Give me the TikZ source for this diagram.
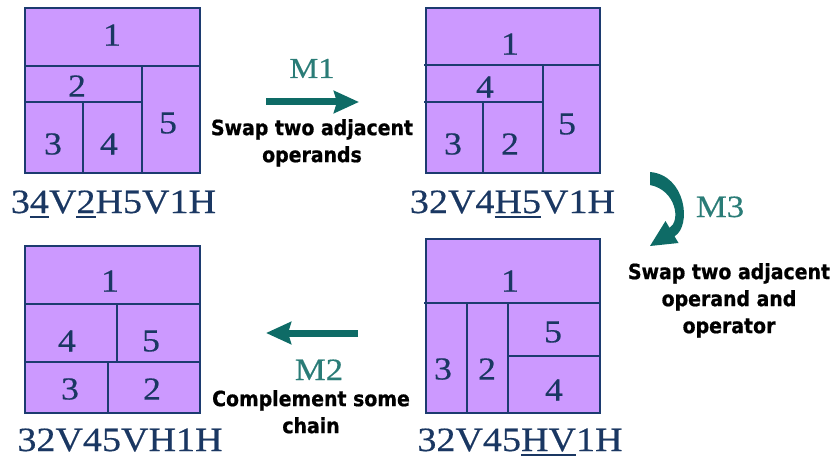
\documentclass[tikz,border=0pt]{standalone}
\usepackage{fontspec}
\usetikzlibrary{arrows.meta}
\newfontfamily\serifx{Liberation Serif}[FakeStretch=1.12, FakeBold=0.4]
\newfontfamily\lblfont{DejaVu Sans}[FakeStretch=0.9, BoldFeatures={FakeBold=0.8}]
\definecolor{boxfill}{HTML}{CC99FF}
\definecolor{boxline}{HTML}{1C3B70}
\definecolor{numcol}{HTML}{1A3762}
\definecolor{arrcol}{HTML}{0E6B66}
\definecolor{mcol}{HTML}{2A7C77}
\newcommand\myul[1]{\leavevmode\vtop{\hbox{#1}\kern2.5pt\hrule height 2.2pt}}
\tikzset{
  panel/.style={draw=boxline, fill=boxfill, line width=2.5pt},
  part/.style={draw=boxline, line width=2.5pt},
  num/.style={text=numcol, inner sep=0pt, font=\serifx\fontsize{32}{36}\selectfont},
  formula/.style={text=numcol, inner sep=0pt, anchor=base, font=\serifx\fontsize{34}{40}\selectfont},
  mlabel/.style={text=mcol, inner sep=0pt, anchor=base, font=\serifx\fontsize{29}{34}\selectfont},
  desc/.style={text=black, inner sep=0pt, anchor=north, align=center, font=\lblfont\bfseries\fontsize{21}{27}\selectfont},
  movearrow/.style={draw=arrcol, line width=7pt, -{Stealth[length=25pt,width=22pt,inset=3pt]}},
}
\begin{document}
\begin{tikzpicture}[x=1pt,y=-1pt]
\useasboundingbox (0,0) rectangle (832,457);
% ---------- panel 1 ----------
\draw[panel] (25,8) rectangle (200,173);
\draw[part] (25,66) -- (200,66);
\draw[part] (142,66) -- (142,173);
\draw[part] (25,102) -- (142,102);
\draw[part] (83,102) -- (83,173);
\node[num] (a1) at (112,35) {1};
\node[num] (a2) at (77,86) {2};
\node[num] (a3) at (53,144) {3};
\node[num] (a4) at (109,144) {4};
\node[num] (a5) at (168,123) {5};
\node[formula] (fa) at (113.5,213) {3\myul{4}V\myul{2}H5V1H};
% ---------- panel 2 ----------
\draw[panel] (426,8) rectangle (600,173);
\draw[part] (424,65) -- (600,65);
\draw[part] (543,65) -- (543,173);
\draw[part] (424,102) -- (543,102);
\draw[part] (483,102) -- (483,173);
\node[num] (b1) at (510,44) {1};
\node[num] (b4) at (485,87) {4};
\node[num] (b3) at (453,144) {3};
\node[num] (b2) at (510,144) {2};
\node[num] (b5) at (567,124) {5};
\node[formula] (fb) at (512.5,213) {32V4\myul{H5}V1H};
% ---------- panel 3 ----------
\draw[panel] (426,239) rectangle (600,413);
\draw[part] (424,303) -- (600,303);
\draw[part] (467,303) -- (467,413);
\draw[part] (508,303) -- (508,413);
\draw[part] (508,356) -- (600,356);
\node[num] (c1) at (510,281) {1};
\node[num] (c5) at (553,332) {5};
\node[num] (c3) at (443,369) {3};
\node[num] (c2) at (487,369) {2};
\node[num] (c4) at (554,390) {4};
\node[formula] (fc) at (520,451) {32V45\myul{HV}1H};
% ---------- panel 4 ----------
\draw[panel] (25,246) rectangle (200,413);
\draw[part] (25,304) -- (200,304);
\draw[part] (117,304) -- (117,362);
\draw[part] (25,362) -- (200,362);
\draw[part] (108,362) -- (108,413);
\node[num] (d1) at (110,281) {1};
\node[num] (d4) at (67,341) {4};
\node[num] (d5) at (151,341) {5};
\node[num] (d3) at (70,389) {3};
\node[num] (d2) at (152,389) {2};
\node[formula] (fd) at (120,451) {32V45VH1H};
% ---------- moves ----------
\coordinate (m1s) at (266,102);
\coordinate (m1e) at (359,102);
\draw[movearrow] (m1s) -- (m1e);
\node[mlabel] (m1) at (312,78) {M1};
\node[desc] (t1) at (312,119) {Swap two adjacent\\operands};

\coordinate (m2s) at (358,333);
\coordinate (m2e) at (266,333);
\draw[movearrow] (m2s) -- (m2e);
\node[mlabel, font=\serifx\fontsize{31}{36}\selectfont] (m2) at (319,380) {M2};
\node[desc] (t2) at (311,390) {Complement some\\chain};

\fill[arrcol] (650,172) .. controls (686,175) and (692,226) .. (674.5,236.3)
  -- (678.5,243) -- (650,246) -- (665.5,221) -- (669.5,227.8)
  .. controls (681,221) and (676,190) .. (650,185) -- cycle;
\node[mlabel, font=\serifx\fontsize{31}{36}\selectfont] (m3) at (720,217) {M3};
\node[desc] (t3) at (729,263) {Swap two adjacent\\operand and\\operator};
\end{tikzpicture}
\end{document}
